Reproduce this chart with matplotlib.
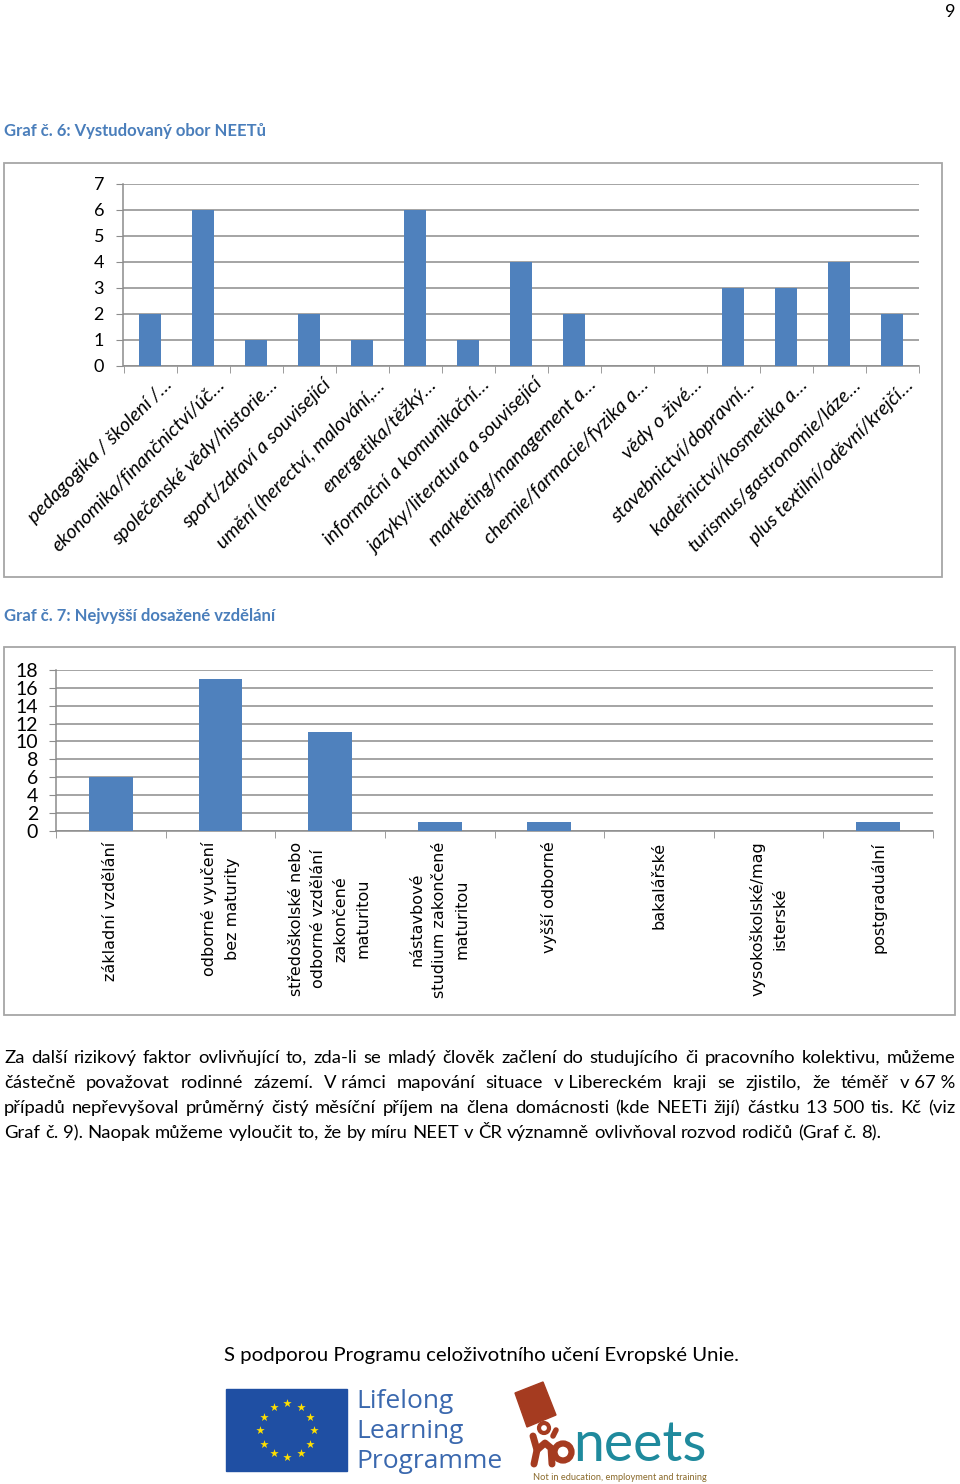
import numpy as np
import matplotlib.pyplot as plt
from matplotlib.patches import Rectangle, Polygon, Circle
from matplotlib.transforms import offset_copy

# data
obory = ["pedagogika / školení /…", "ekonomika/finančnictví/úč…", "společenské vědy/historie…",
         "sport/zdraví a související", "umění (herectví, malování,…", "energetika/těžký…",
         "informační a komunikační…", "jazyky/literatura a související", "marketing/management a…",
         "chemie/farmacie/fyzika a…", "vědy o živé…", "stavebnictví/dopravní…",
         "kadeřnictví/kosmetika a…", "turismus/gastronomie/láze…", "plus textilní/oděvní/krejčí…"]
obory_pocet = [2, 6, 1, 2, 1, 6, 1, 4, 2, 0, 0, 3, 3, 4, 2]

vzdelani = ["základní vzdělání", "odborné vyučení\nbez maturity",
            "středoškolské nebo\nodborné vzdělání\nzakončené\nmaturitou",
            "nástavbové\nstudium zakončené\nmaturitou", "vyšší odborné", "bakalářské",
            "vysokoškolské/mag\nisterské", "postgraduální"]
vzdelani_pocet = [6, 17, 11, 1, 1, 0, 0, 1]

odstavec = [
    "Za další rizikový faktor ovlivňující to, zda-li se mladý člověk začlení do studujícího či pracovního kolektivu, můžeme",
    "částečně považovat rodinné zázemí. V\u00a0rámci mapování situace v\u00a0Libereckém kraji se zjistilo, že téměř v\u00a067\u00a0%",
    "případů nepřevyšoval průměrný čistý měsíční příjem na člena domácnosti (kde NEETi žijí) částku 13\u00a0500 tis. Kč (viz",
    "Graf č. 9). Naopak můžeme vyloučit to, že by míru NEET v ČR významně ovlivňoval rozvod rodičů (Graf č. 8).",
]

W, H = 960, 1484
blue = "#4f81bd"
grid_c = "#8c8c8c"
body_font = ["Lato", "DejaVu Sans"]

fig = plt.figure(figsize=(W / 100, H / 100), dpi=100)

# page overlay in pixel coordinates
ov = fig.add_axes([0, 0, 1, 1])
ov.set_xlim(0, W)
ov.set_ylim(H, 0)
ov.axis("off")

ov.text(955, 12, "9", fontsize=13, family=body_font, ha="right", va="center")
ov.text(4, 131, "Graf č. 6: Vystudovaný obor NEETů", fontsize=12, family=body_font,
        weight="bold", color="#4a7ebb", va="center")
ov.text(4, 616, "Graf č. 7: Nejvyšší dosažené vzdělání", fontsize=12, family=body_font,
        weight="bold", color="#4a7ebb", va="center")

ov.add_patch(Rectangle((4, 163), 938, 414, fill=False, ec="#a6a6a6", lw=1.3))
ov.add_patch(Rectangle((4, 647), 951, 368, fill=False, ec="#a6a6a6", lw=1.3))


def style_axes(ax):
    for s in ["top", "right"]:
        ax.spines[s].set_visible(False)
    for s in ["left", "bottom"]:
        ax.spines[s].set_color(grid_c)
        ax.spines[s].set_linewidth(1.1)
    ax.set_axisbelow(True)
    ax.grid(axis="y", color=grid_c, lw=1.1)
    ax.tick_params(axis="y", length=5, color=grid_c, labelsize=13)
    ax.tick_params(axis="x", which="major", length=0)
    ax.tick_params(axis="x", which="minor", length=5, color=grid_c)
    for t in ax.get_yticklabels():
        t.set_family(body_font)
    ax.patch.set_alpha(0)


# chart 6
ax1 = fig.add_axes([123.5 / W, 1 - 366 / H, 795 / W, 182 / H])
x1 = np.arange(len(obory))
ax1.bar(x1, obory_pocet, width=0.42, color=blue, zorder=3)
ax1.set_xlim(-0.5, len(obory) - 0.5)
ax1.set_ylim(0, 7)
ax1.set_yticks(range(8))
ax1.set_xticks(np.arange(-0.5, len(obory), 1), minor=True)
ax1.set_xticks(x1)
ax1.set_xticklabels([])
style_axes(ax1)
ax1.tick_params(axis="y", pad=9)
lab_tr = offset_copy(ax1.get_xaxis_transform(), fig=fig, x=13, y=-10, units="dots")
for xi, lab in zip(x1, obory):
    ax1.text(xi, 0, lab, transform=lab_tr, rotation=45, rotation_mode="anchor",
             ha="right", va="top", fontstyle="italic", fontsize=14.2, family=body_font)

# chart 7
ax2 = fig.add_axes([56 / W, 1 - 830.5 / H, 877 / W, 160.5 / H])
x2 = np.arange(len(vzdelani))
ax2.bar(x2, vzdelani_pocet, width=0.4, color=blue, zorder=3)
ax2.set_xlim(-0.5, len(vzdelani) - 0.5)
ax2.set_ylim(0, 18)
ax2.set_yticks(range(0, 19, 2))
ax2.set_xticks(np.arange(-0.5, len(vzdelani), 1), minor=True)
ax2.set_xticks(x2)
ax2.set_xticklabels(vzdelani, rotation=90, ha="center", va="top", multialignment="center",
                    fontsize=11.5, family="DejaVu Sans", linespacing=1.6)
style_axes(ax2)
ax2.tick_params(axis="y", pad=8, labelsize=14)
ax2.tick_params(axis="x", which="major", pad=8)

# justified paragraph
r = fig.canvas.get_renderer()
fs = 13.3


def width(s):
    t = ov.text(0, 0, s, fontsize=fs, family=body_font)
    w = t.get_window_extent(r).width
    t.remove()
    return w


space = width("a a") - width("aa")
for i, line in enumerate(odstavec):
    y = 1063 + 25 * i
    words = line.split(" ")
    ws = [width(w) for w in words]
    last = i == len(odstavec) - 1
    gap = space if last else (951 - sum(ws)) / (len(words) - 1)
    x = 4
    for w, wd in zip(words, ws):
        ov.text(x, y, w, fontsize=fs, family=body_font, va="baseline")
        x += wd + gap

ov.text(481, 1356, "S podporou Programu celoživotního učení Evropské Unie.", fontsize=14.7,
        family=body_font, ha="center", va="center")

# EU logo
ov.add_patch(Rectangle((226, 1389), 121, 82, color="#1f4fa3"))
ang = np.arange(12) * np.pi / 6
ov.scatter(287 + 27 * np.cos(ang), 1430 + 27 * np.sin(ang), marker="*", s=40,
           color="#ffe000", lw=0, zorder=5)
for j, wtxt in enumerate(["Lifelong", "Learning", "Programme"]):
    ov.text(356, 1402 + 30 * j, wtxt, fontsize=19, family=["Open Sans", "DejaVu Sans"],
            color="#3a68ae", va="center")

# honeets logo
brown = "#a53b20"
ov.add_patch(Polygon([(515, 1393), (543, 1382), (556, 1415), (527, 1427)], color=brown))
ov.add_patch(Circle((544, 1428), 5, fill=False, ec=brown, lw=3))
ov.plot([533, 537, 534], [1436, 1450, 1464], color=brown, lw=5, solid_capstyle="round")
ov.plot([537, 545, 551, 552], [1450, 1443, 1448, 1464], color=brown, lw=5,
        solid_capstyle="round")
ov.plot([553, 556], [1436, 1430], color=brown, lw=4, solid_capstyle="round")
ov.add_patch(Circle((563, 1452), 8.5, fill=False, ec=brown, lw=4.5))
ov.text(573, 1461, "neets", fontsize=40, family=body_font, color="#1f8a9d",
        va="baseline")
ov.text(533, 1478, "Not in education, employment and training", fontsize=6.7,
        family=body_font, color="#8a6a2c", va="center")

fig.savefig("out.png", dpi=100)
